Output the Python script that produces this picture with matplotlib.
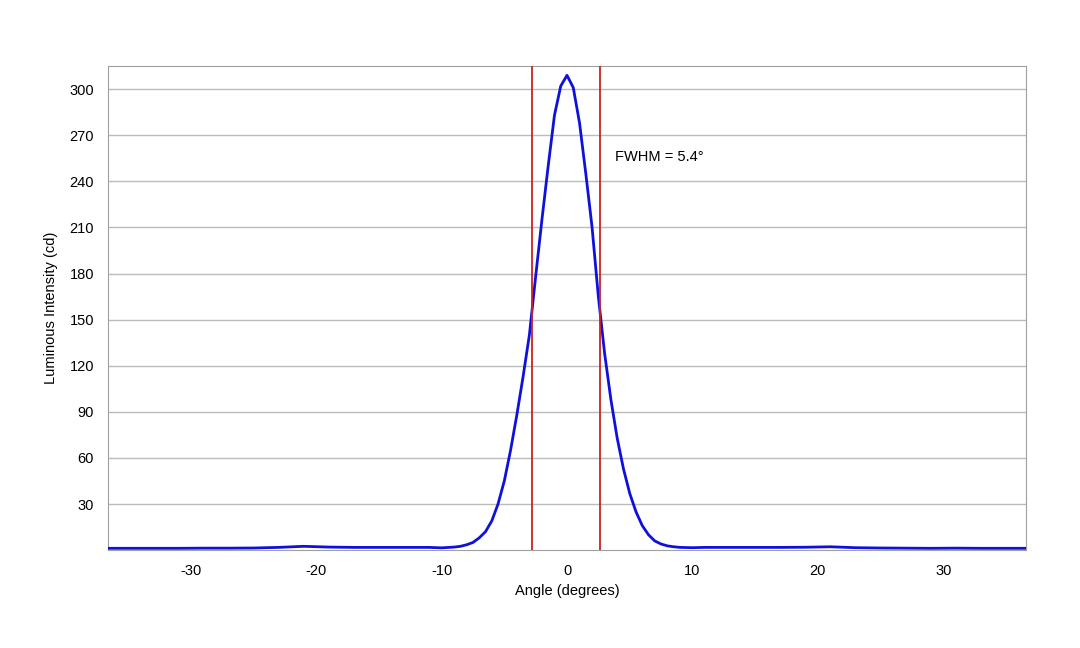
import matplotlib
matplotlib.use("Agg")
import matplotlib.pyplot as plt

plt.rcParams['font.family'] = ['Liberation Sans', 'DejaVu Sans']
plt.rcParams['axes.unicode_minus'] = False

angles = [-37,-35,-33,-31,-29,-27,-25,-23,-21,-19,-17,-15,-13,-11,-10,-9,-8.5,-8,-7.5,-7,-6.5,-6,-5.5,-5,-4.5,-4,-3.5,-3,-2.5,-2,-1.5,-1,-0.5,0,
          0.5,1,1.5,2,2.5,3,3.5,4,4.5,5,5.5,6,6.5,7,7.5,8,8.5,9,10,11,13,15,17,19,21,23,25,27,29,31,33,35,37]
intensity = [1.2,1.2,1.2,1.2,1.3,1.3,1.4,1.8,2.5,2.0,1.8,1.8,1.8,1.8,1.5,2.0,2.5,3.5,5,8,12,19,30,45,65,88,113,140,178,215,250,283,302,309,
             301,278,245,210,165,128,98,73,53,37,25,16,10,6,4,2.8,2.2,1.8,1.6,1.8,1.8,1.8,1.8,1.9,2.2,1.6,1.4,1.3,1.2,1.3,1.2,1.2,1.2]
fwhm_lines = [-2.8, 2.65]

fig = plt.figure(figsize=(10.8, 6.48), dpi=100)
ax = fig.add_axes([0.1, 0.151, 0.85, 0.747])
ax.plot(angles, intensity, color="#1010dd", lw=2, zorder=3)
for x in fwhm_lines:
    ax.axvline(x, color="#cc2222", lw=1.3, zorder=4)
ax.set_xlim(-36.6, 36.6)
ax.set_ylim(0, 315)
ax.set_yticks(range(30, 301, 30))
ax.set_xticks(range(-30, 31, 10))
ax.grid(axis="y", color="#bcbcbc", lw=1)
ax.set_axisbelow(True)
for s in ax.spines.values():
    s.set_color("#a0a0a0")
ax.tick_params(length=0, labelsize=10.5, pad=10)
ax.set_xlabel("Angle (degrees)", fontsize=10.5, labelpad=4)
ax.set_ylabel("Luminous Intensity (cd)", fontsize=10.5, labelpad=8)
ax.text(3.8, 253, "FWHM = 5.4°", fontsize=10.5)
fig.savefig("out.png")
